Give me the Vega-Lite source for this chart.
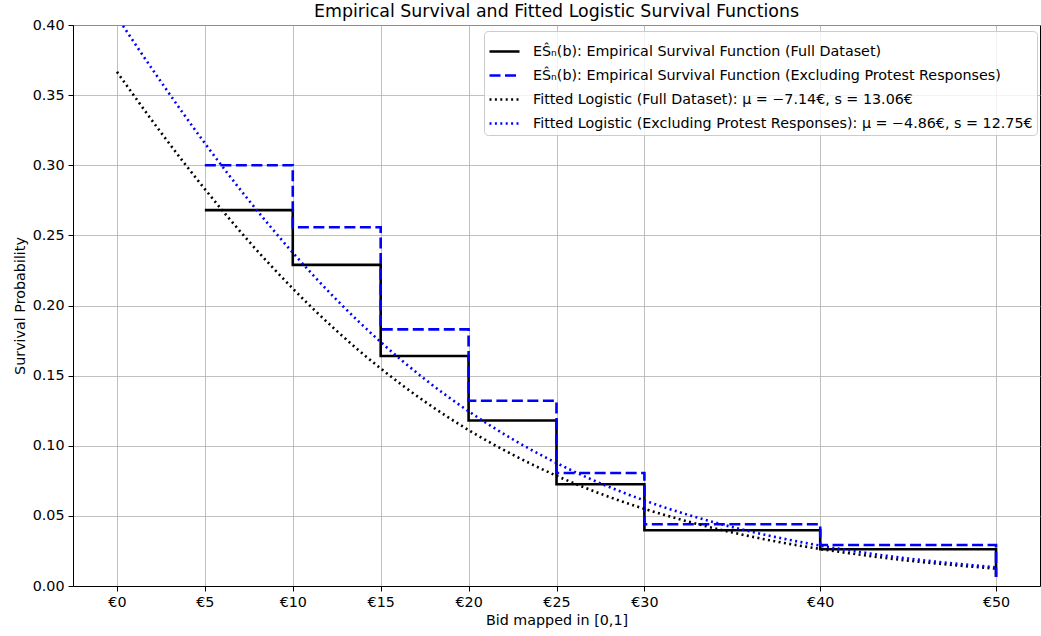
{
  "$schema": "https://vega.github.io/schema/vega-lite/v6.json",
  "width": 967,
  "height": 561,
  "autosize": {"type": "none"},
  "padding": {"left": 73, "top": 25, "right": 1, "bottom": 50},
  "title": {"text": "Empirical Survival and Fitted Logistic Survival Functions", "fontSize": 17.4, "fontWeight": "normal", "font": "DejaVu Sans", "color": "black", "offset": -2, "frame": "group", "anchor": "middle"},
  "config": {
    "font": "DejaVu Sans",
    "view": {"stroke": "black", "strokeWidth": 1},
    "axis": {"domainColor": "black", "tickColor": "black", "labelColor": "black", "titleColor": "black", "labelFontSize": 14.3, "titleFontSize": 14.3, "titleFontWeight": "normal", "gridColor": "#b0b0b0", "gridWidth": 0.8, "tickSize": 5, "labelPadding": 4}
  },
  "data": {"values": [
    {"series": "full", "bid": 5, "prob": 0.268},
    {"series": "full", "bid": 10, "prob": 0.229},
    {"series": "full", "bid": 15, "prob": 0.164},
    {"series": "full", "bid": 20, "prob": 0.118},
    {"series": "full", "bid": 25, "prob": 0.0725},
    {"series": "full", "bid": 30, "prob": 0.0397},
    {"series": "full", "bid": 40, "prob": 0.0262},
    {"series": "full", "bid": 50, "prob": 0.0064},
    {"series": "excl", "bid": 5, "prob": 0.300},
    {"series": "excl", "bid": 10, "prob": 0.2558},
    {"series": "excl", "bid": 15, "prob": 0.183},
    {"series": "excl", "bid": 20, "prob": 0.1321},
    {"series": "excl", "bid": 25, "prob": 0.0806},
    {"series": "excl", "bid": 30, "prob": 0.044},
    {"series": "excl", "bid": 40, "prob": 0.0292},
    {"series": "excl", "bid": 50, "prob": 0.0064},
    {"series": "fitfull", "bid": 0, "prob": 0.3666},
    {"series": "fitfull", "bid": 2.5, "prob": 0.3234},
    {"series": "fitfull", "bid": 5, "prob": 0.2830},
    {"series": "fitfull", "bid": 7.5, "prob": 0.2458},
    {"series": "fitfull", "bid": 10, "prob": 0.2121},
    {"series": "fitfull", "bid": 12.5, "prob": 0.1819},
    {"series": "fitfull", "bid": 15, "prob": 0.1551},
    {"series": "fitfull", "bid": 17.5, "prob": 0.1316},
    {"series": "fitfull", "bid": 20, "prob": 0.1112},
    {"series": "fitfull", "bid": 22.5, "prob": 0.0937},
    {"series": "fitfull", "bid": 25, "prob": 0.0786},
    {"series": "fitfull", "bid": 27.5, "prob": 0.0658},
    {"series": "fitfull", "bid": 30, "prob": 0.0550},
    {"series": "fitfull", "bid": 32.5, "prob": 0.0459},
    {"series": "fitfull", "bid": 35, "prob": 0.0382},
    {"series": "fitfull", "bid": 37.5, "prob": 0.0317},
    {"series": "fitfull", "bid": 40, "prob": 0.0264},
    {"series": "fitfull", "bid": 42.5, "prob": 0.0219},
    {"series": "fitfull", "bid": 45, "prob": 0.0181},
    {"series": "fitfull", "bid": 47.5, "prob": 0.0150},
    {"series": "fitfull", "bid": 50, "prob": 0.0124},
    {"series": "fitexcl", "bid": 0, "prob": 0.4058},
    {"series": "fitexcl", "bid": 2.5, "prob": 0.3596},
    {"series": "fitexcl", "bid": 5, "prob": 0.3157},
    {"series": "fitexcl", "bid": 7.5, "prob": 0.2750},
    {"series": "fitexcl", "bid": 10, "prob": 0.2377},
    {"series": "fitexcl", "bid": 12.5, "prob": 0.2040},
    {"series": "fitexcl", "bid": 15, "prob": 0.1740},
    {"series": "fitexcl", "bid": 17.5, "prob": 0.1476},
    {"series": "fitexcl", "bid": 20, "prob": 0.1246},
    {"series": "fitexcl", "bid": 22.5, "prob": 0.1047},
    {"series": "fitexcl", "bid": 25, "prob": 0.0877},
    {"series": "fitexcl", "bid": 27.5, "prob": 0.0732},
    {"series": "fitexcl", "bid": 30, "prob": 0.0610},
    {"series": "fitexcl", "bid": 32.5, "prob": 0.0507},
    {"series": "fitexcl", "bid": 35, "prob": 0.0420},
    {"series": "fitexcl", "bid": 37.5, "prob": 0.0348},
    {"series": "fitexcl", "bid": 40, "prob": 0.0288},
    {"series": "fitexcl", "bid": 42.5, "prob": 0.0238},
    {"series": "fitexcl", "bid": 45, "prob": 0.0196},
    {"series": "fitexcl", "bid": 47.5, "prob": 0.0162},
    {"series": "fitexcl", "bid": 50, "prob": 0.0133}
  ]},
  "encoding": {
    "x": {"field": "bid", "type": "quantitative", "scale": {"domain": [-2.5, 52.5], "nice": false, "zero": false},
      "axis": {"title": "Bid mapped in [0,1]", "values": [0, 5, 10, 15, 20, 25, 30, 40, 50], "labelExpr": "'€' + datum.value", "titlePadding": 4}},
    "y": {"field": "prob", "type": "quantitative", "scale": {"domain": [0, 0.4], "nice": false},
      "axis": {"title": "Survival Probability", "values": [0, 0.05, 0.1, 0.15, 0.2, 0.25, 0.3, 0.35, 0.4], "format": ".2f", "titlePadding": 5}},
    "color": {"field": "series", "type": "nominal",
      "scale": {"domain": ["full", "excl", "fitfull", "fitexcl"], "range": ["black", "blue", "black", "blue"]},
      "legend": {"title": null, "orient": "none", "legendX": 411, "legendY": 6, "symbolType": "stroke", "symbolSize": 900,
        "labelFontSize": 14.3, "labelColor": "black", "rowPadding": -5, "padding": 4, "labelOffset": 12,
        "fillColor": "rgba(255,255,255,0.8)", "strokeColor": "#cccccc", "cornerRadius": 4, "labelLimit": 600,
        "labelExpr": "datum.value == 'full' ? 'EŜₙ(b): Empirical Survival Function (Full Dataset)' : datum.value == 'excl' ? 'EŜₙ(b): Empirical Survival Function (Excluding Protest Responses)' : datum.value == 'fitfull' ? 'Fitted Logistic (Full Dataset): μ = −7.14€, s = 13.06€' : 'Fitted Logistic (Excluding Protest Responses): μ = −4.86€, s = 12.75€'"}},
    "strokeDash": {"field": "series", "type": "nominal",
      "scale": {"domain": ["full", "excl", "fitfull", "fitexcl"], "range": [[1, 0], [11, 4.5], [2, 3.4], [2, 3.4]]}},
    "strokeWidth": {"field": "series", "type": "nominal",
      "scale": {"domain": ["full", "excl", "fitfull", "fitexcl"], "range": [2.6, 2.6, 1.8, 1.8]}}
  },
  "layer": [
    {"transform": [{"filter": "datum.series == 'full'"}], "mark": {"type": "line", "interpolate": "step-after"}},
    {"transform": [{"filter": "datum.series == 'excl'"}], "mark": {"type": "line", "interpolate": "step-after"}},
    {"transform": [{"filter": "datum.series == 'fitfull'"}], "mark": {"type": "line", "interpolate": "monotone", "clip": true}},
    {"transform": [{"filter": "datum.series == 'fitexcl'"}], "mark": {"type": "line", "interpolate": "monotone", "clip": true}}
  ]
}
